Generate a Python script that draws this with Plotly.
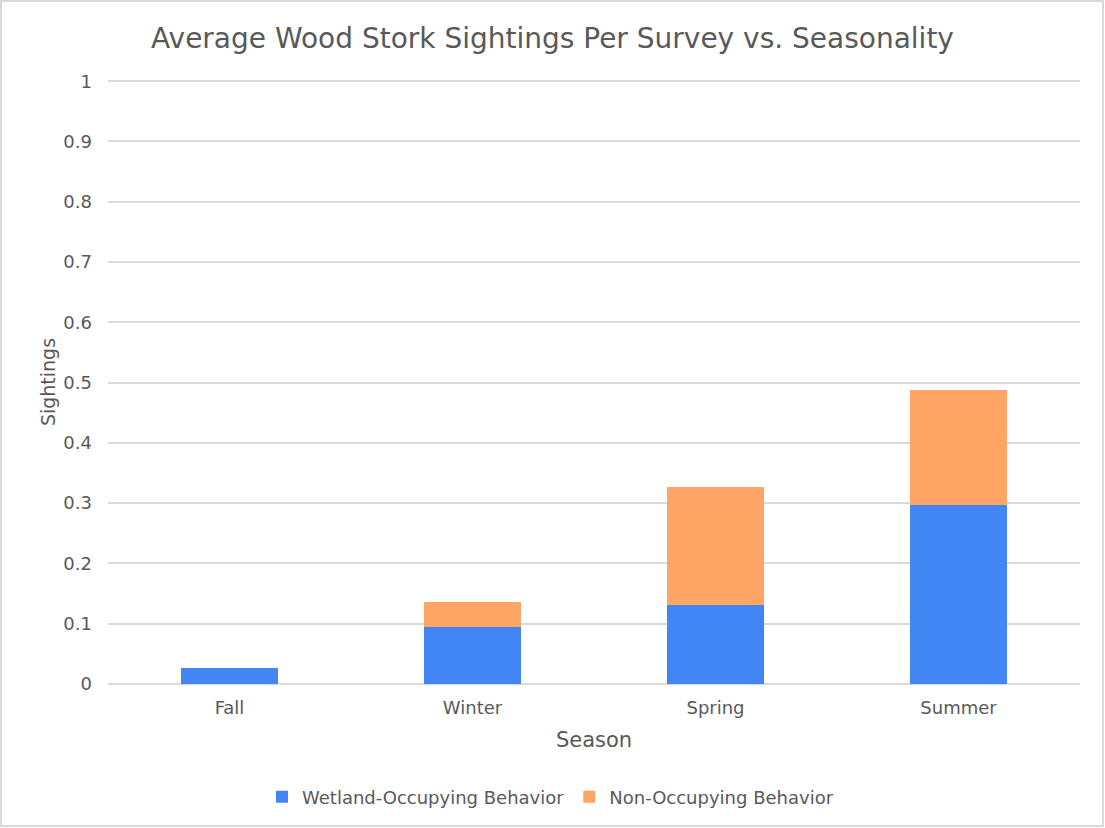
import plotly.graph_objects as go

seasons = ["Fall", "Winter", "Spring", "Summer"]
wetland_occupying = [0.027, 0.095, 0.131, 0.297]
non_occupying = [0.0, 0.041, 0.195, 0.190]

W, H = 1105, 828
ML, MR, MT, MB = 108, 25, 80, 144
TEXT = "#595959"
GRID = "#d9d9d9"
FONT = "DejaVu Sans, Verdana, sans-serif"

fig = go.Figure()
fig.add_trace(go.Bar(
    x=seasons, y=wetland_occupying, name="Wetland-Occupying Behavior",
    marker=dict(color="#4285f4", line=dict(width=0)),
))
fig.add_trace(go.Bar(
    x=seasons, y=non_occupying, name="Non-Occupying Behavior",
    marker=dict(color="#ffa667", line=dict(width=0)),
))

pw = W - ML - MR
ph = H - MT - MB
# light border around the whole chart
fig.add_shape(
    type="rect", xref="paper", yref="paper",
    x0=(1 - ML) / pw, x1=(W - 2 - ML) / pw,
    y0=(2 - MB) / ph, y1=(H - 1 - MB) / ph,
    line=dict(color="#d9d9d9", width=2), layer="below",
)

fig.update_layout(
    width=W, height=H,
    margin=dict(l=ML, r=MR, t=MT, b=MB),
    barmode="stack", bargap=0.6,
    plot_bgcolor="white", paper_bgcolor="white",
    font=dict(family=FONT, color=TEXT, size=18),
    title=dict(
        text="Average Wood Stork Sightings Per Survey vs. Seasonality",
        x=0.5, xanchor="center", y=1 - 38 / H, yanchor="middle",
        font=dict(size=28, color=TEXT),
    ),
    xaxis=dict(
        showgrid=False, showline=False, ticks="",
        tickfont=dict(size=18, color=TEXT),
        ticklabelstandoff=11,
        title=dict(text="Season", font=dict(size=21, color=TEXT), standoff=15),
    ),
    yaxis=dict(
        range=[0, 1.002], tickvals=[i / 10 for i in range(11)], tickformat="~g",
        showgrid=True, gridcolor=GRID, gridwidth=1.5,
        zeroline=True, zerolinecolor=GRID, zerolinewidth=1.5,
        showline=False, ticks="",
        tickfont=dict(size=18, color=TEXT),
        ticklabelstandoff=15,
        title=dict(text="Sightings", font=dict(size=19, color=TEXT), standoff=2),
    ),
    legend=dict(
        orientation="h", x=(262 - ML) / pw, xanchor="left",
        y=-(797 - 684) / ph, yanchor="middle",
        font=dict(size=18, color=TEXT),
        itemwidth=30, traceorder="normal",
    ),
)

fig.write_html("out.html")
